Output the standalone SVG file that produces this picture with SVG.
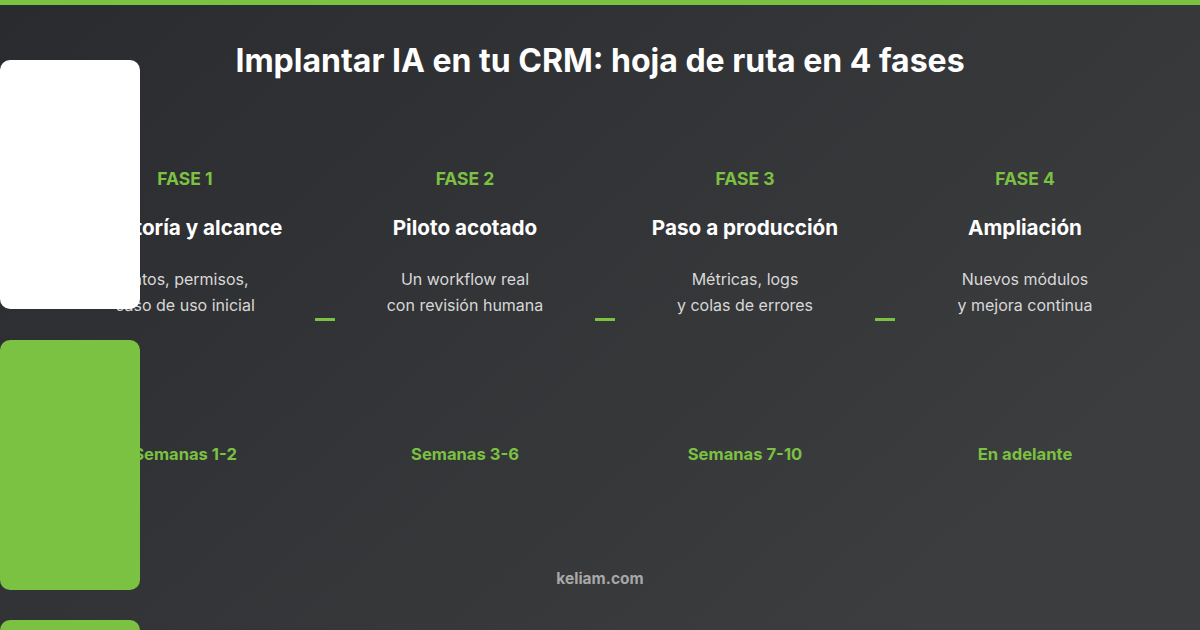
<svg xmlns="http://www.w3.org/2000/svg" width="1200" height="630" viewBox="0 0 1200 630">
<defs>
<linearGradient id="bg" x1="0" y1="0" x2="1" y2="0.6">
<stop offset="0" stop-color="#2a2b2e"/>
<stop offset="1" stop-color="#3c3d3f"/>
</linearGradient>
<style>
text{font-family:Inter,"Noto Sans","Liberation Sans",sans-serif;text-anchor:middle}
.title{font-size:32px;font-weight:700;fill:#ffffff}
.fase{font-size:17.5px;font-weight:700;fill:#7bc142}
.name{font-size:20.7px;font-weight:700;fill:#ffffff}
.desc{font-size:16px;font-weight:400;fill:#d8d8d8}
.weeks{font-size:16.6px;font-weight:700;fill:#7bc142}
.foot{font-size:15.5px;font-weight:700;fill:#a8a8a8}
.dash{fill:#7bc142}
</style>
</defs>
<rect width="1200" height="630" fill="url(#bg)"/>
<rect width="1200" height="5" fill="#7bc142"/>
<text class="title" x="600" y="72">Implantar IA en tu CRM: hoja de ruta en 4 fases</text>

<g id="phase1">
<text class="fase" x="185" y="185">FASE 1</text>
<text class="name" x="185" y="235">Auditoría y alcance</text>
<text class="desc" x="185" y="285">Datos, permisos,</text>
<text class="desc" x="185" y="311">caso de uso inicial</text>
<text class="weeks" x="185" y="460">Semanas 1-2</text>
</g>
<g id="phase2">
<text class="fase" x="465" y="185">FASE 2</text>
<text class="name" x="465" y="235">Piloto acotado</text>
<text class="desc" x="465" y="285">Un workflow real</text>
<text class="desc" x="465" y="311">con revisión humana</text>
<text class="weeks" x="465" y="460">Semanas 3-6</text>
</g>
<g id="phase3">
<text class="fase" x="745" y="185">FASE 3</text>
<text class="name" x="745" y="235">Paso a producción</text>
<text class="desc" x="745" y="285">Métricas, logs</text>
<text class="desc" x="745" y="311">y colas de errores</text>
<text class="weeks" x="745" y="460">Semanas 7-10</text>
</g>
<g id="phase4">
<text class="fase" x="1025" y="185">FASE 4</text>
<text class="name" x="1025" y="235">Ampliación</text>
<text class="desc" x="1025" y="285">Nuevos módulos</text>
<text class="desc" x="1025" y="311">y mejora continua</text>
<text class="weeks" x="1025" y="460">En adelante</text>
</g>

<g id="connectors">
<rect class="dash" x="315" y="318" width="20" height="3"/>
<rect class="dash" x="595" y="318" width="20" height="3"/>
<rect class="dash" x="875" y="318" width="20" height="3"/>
</g>

<g id="side-blocks">
<rect x="0" y="60" width="140" height="249" rx="10" fill="#ffffff"/>
<rect x="0" y="340" width="140" height="250" rx="10" fill="#7bc142"/>
<rect x="0" y="620" width="140" height="250" rx="10" fill="#7bc142"/>
</g>

<text class="foot" x="600" y="584">keliam.com</text>
</svg>
